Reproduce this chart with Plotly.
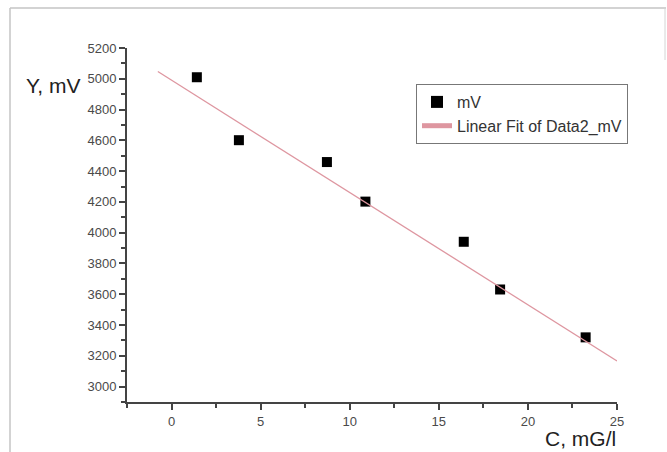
import plotly.graph_objects as go

# Data
conc = [1.42, 3.78, 8.72, 10.88, 16.40, 18.44, 23.24]
mv = [5010, 4601, 4459, 4202, 3941, 3631, 3320]
fit_x = [-0.77, 25.0]
fit_y = [5047, 3167]

W, H = 667, 452
L, R, T, B = 127, 50, 48, 50
PW, PH = W - L - R, H - T - B


def px(x):
    return (x - L) / PW


def py(y):
    return 1 - (y - T) / PH


FONT = "Liberation Sans, Arial, sans-serif"

fig = go.Figure()
fig.add_trace(go.Scatter(
    x=conc, y=mv, mode="markers", name="mV",
    marker=dict(symbol="square", size=10, color="black"),
))
fig.add_trace(go.Scatter(
    x=fit_x, y=fit_y, mode="lines", name="Linear Fit of Data2_mV",
    line=dict(color="rgb(222,150,160)", width=1.3),
))

axis_common = dict(
    showline=True, linecolor="#444", linewidth=2,
    ticks="outside", ticklen=6, tickwidth=2, tickcolor="#444",
    showgrid=False, zeroline=False,
    tickfont=dict(family=FONT, size=13, color="#4a4a4a"),
)

fig.update_xaxes(range=[-2.5, 25], tick0=0, dtick=5,
                 minor=dict(dtick=2.5, tick0=0, ticks="outside", ticklen=4,
                            tickwidth=2, tickcolor="#444"),
                 **axis_common)
fig.update_yaxes(range=[2900, 5200], tick0=0, dtick=200,
                 minor=dict(dtick=100, tick0=0, ticks="outside", ticklen=4,
                            tickwidth=2, tickcolor="#444"),
                 **axis_common)

fig.update_layout(
    width=W, height=H,
    margin=dict(l=L, r=R, t=T, b=B),
    paper_bgcolor="white", plot_bgcolor="white",
    font=dict(family=FONT),
    showlegend=True,
    legend=dict(
        x=px(416), y=py(84), xanchor="left", yanchor="top",
        bordercolor="#777", borderwidth=1, bgcolor="white",
        font=dict(family=FONT, size=16, color="#333"),
        itemsizing="constant", tracegroupgap=0,
    ),
    annotations=[
        dict(text="Y, mV", xref="paper", yref="paper",
             x=px(82), y=py(85), xanchor="right", yanchor="middle",
             showarrow=False, font=dict(family=FONT, size=21, color="#222")),
        dict(text="C, mG/l", xref="paper", yref="paper",
             x=px(618), y=py(425), xanchor="right", yanchor="top",
             showarrow=False, font=dict(family=FONT, size=21, color="#222")),
    ],
    shapes=[
        dict(type="line", xref="paper", yref="paper",
             x0=px(10), x1=px(666), y0=py(8), y1=py(8),
             line=dict(color="#c4c4c4", width=1.5)),
        dict(type="line", xref="paper", yref="paper",
             x0=px(10), x1=px(10), y0=py(8), y1=py(460),
             line=dict(color="#c4c4c4", width=1.5)),
        dict(type="line", xref="paper", yref="paper",
             x0=px(665), x1=px(665), y0=py(8), y1=py(60),
             line=dict(color="#d4d4d4", width=1)),
    ],
)

fig.write_html(
    "out.html",
    config={"displayModeBar": False},
    post_script="document.body.style.margin='0';document.body.style.overflow='hidden';",
)
